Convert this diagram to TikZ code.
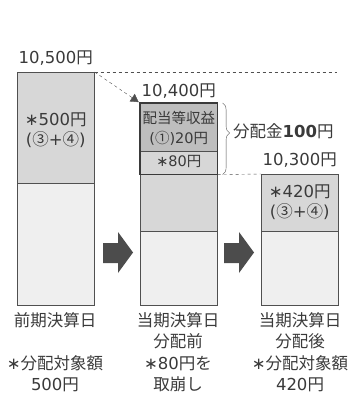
\documentclass[tikz,border=0pt]{standalone}
\usepackage{fontspec}
\setmainfont{Noto Sans CJK JP}
\newfontfamily\latnfont{DejaVu Sans}
\newcommand{\numtxt}[1]{{\latnfont #1}}
\newcommand{\kome}{{\latnfont ∗}}
\usepackage{tikz}
\usetikzlibrary{arrows.meta, positioning, calc, decorations.pathreplacing}
\definecolor{barmid}{HTML}{D7D7D7}
\definecolor{barlow}{HTML}{EFEFEF}
\definecolor{barinc}{HTML}{BEBEBE}
\definecolor{inkgray}{HTML}{3A3A3A}
\definecolor{linegray}{HTML}{505050}
\tikzset{
    part/.style={rectangle, draw=linegray, semithick, inner sep=0pt, anchor=north west, minimum width=77pt},
    upper/.style={part, fill=barmid},
    lower/.style={part, fill=barlow},
    income/.style={part, fill=barinc},
    lbl/.style={text=inkgray, font=\fontsize{16.5}{20}\selectfont, align=center, inner sep=0pt},
    small/.style={text=inkgray, font=\fontsize{14.5}{20}\selectfont, align=center, inner sep=0pt},
    guide/.style={dashed, linegray, thin},
    blockarrow/.style={fill=linegray!95!black}
}
\begin{document}
\begin{tikzpicture}[x=1pt, y=-1pt]
  \useasboundingbox (0,0) rectangle (351,401);

  % bars
  \node (prevup) [upper, minimum height=111pt] at (17,72) {};
  \node (prevlow) [lower, minimum height=122pt] at (17,183) {};

  \node (curinc) [income, minimum height=48pt] at (140,103) {};
  \node (curuse) [upper, minimum height=23pt] at (140,151) {};
  \node (curup) [upper, minimum height=57pt] at (140,174) {};
  \node (curlow) [lower, minimum height=74pt] at (140,231) {};
  \draw [inkgray, line width=1.6pt] (curinc.north west) rectangle (curuse.south east);

  \node (nextup) [upper, minimum height=57pt] at (261,174) {};
  \node (nextlow) [lower, minimum height=74pt] at (261,231) {};

  % values inside
  \node [lbl] at ($(prevup.center)+(0,2)$) {\kome\numtxt{500}円\\\numtxt{(}③\numtxt{+}④\numtxt{)}};
  \node [small] at ($(curinc.center)+(0,1)$) {配当等収益\\\numtxt{(}①\numtxt{)20}円};
  \node [small] at ($(curuse.center)+(0,-1)$) {\kome\numtxt{80}円};
  \node [lbl] at ($(nextup.center)+(0,-1)$) {\kome\numtxt{420}円\\\numtxt{(}③\numtxt{+}④\numtxt{)}};

  % prices
  \node (pricea) [lbl, above=6pt of prevup] {\numtxt{10,500}円};
  \node (priceb) [lbl, above=4pt of curinc] {\numtxt{10,400}円};
  \node (pricec) [lbl, above=6pt of nextup] {\numtxt{10,300}円};

  % guides
  \coordinate (guideend) at (337,72);
  \coordinate (tipstart) at ($(curinc.north west)!10pt!(prevup.north east)$);
  \draw [guide] (prevup.north east) -- (tipstart);
  \draw [linegray, thin, shorten >=1.5pt, -{Triangle[length=8pt, width=9pt]}] (tipstart) -- (curinc.north west);
  \draw [guide] (prevup.north east) -- (guideend);
  \draw [guide] (curuse.south east) -- (nextup.north west);

  % brace
  \draw [decorate, decoration={brace, amplitude=7pt, aspect=0.42}, linegray, thin]
    ($(curinc.north east)+(5,0)$) -- ($(curuse.south east)+(5,0)$) coordinate (bracebot);
  \node (payout) [lbl, anchor=west] at (233,131) {分配金{\latnfont\bfseries 100}円};

  % steps
  \fill [blockarrow] (103,243) -- (118,243) -- (118,232) -- (133,252.5) -- (118,273) -- (118,263) -- (103,263) -- cycle;
  \fill [blockarrow] (224,243) -- (239,243) -- (239,232) -- (254,252.5) -- (239,273) -- (239,263) -- (224,263) -- cycle;

  % captions
  \node (capa) [lbl, anchor=north, font=\fontsize{16.5}{21.5}\selectfont] at (55,312) {前期決算日\\\mbox{}\\\kome 分配対象額\\\numtxt{500}円};
  \node (capb) [lbl, anchor=north, font=\fontsize{16.5}{21.5}\selectfont] at (178,312) {当期決算日\\分配前\\\kome\numtxt{80}円を\\取崩し};
  \node (capc) [lbl, anchor=north, font=\fontsize{16.5}{21.5}\selectfont] at (300,312) {当期決算日\\分配後\\\kome 分配対象額\\\numtxt{420}円};
\end{tikzpicture}
\end{document}
